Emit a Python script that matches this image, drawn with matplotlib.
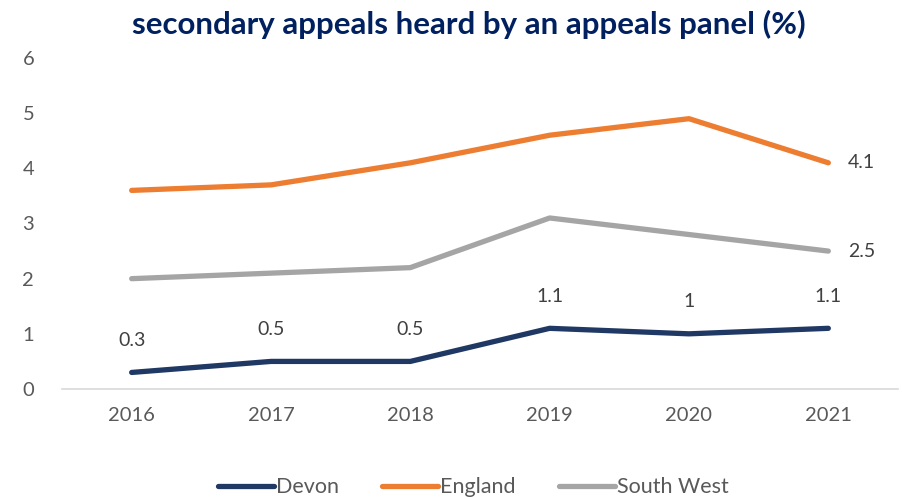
import matplotlib.pyplot as plt

years = ['2016', '2017', '2018', '2019', '2020', '2021']
devon = [0.3, 0.5, 0.5, 1.1, 1.0, 1.1]
england = [3.6, 3.7, 4.1, 4.6, 4.9, 4.1]
south_west = [2.0, 2.1, 2.2, 3.1, 2.8, 2.5]

plt.rcParams['font.family'] = ['Lato', 'DejaVu Sans']

fig = plt.figure(figsize=(9.02, 4.97), dpi=100)
ax = fig.add_axes([62 / 902, 1 - 389 / 497, 836 / 902, 331 / 497])

x = range(len(years))
ax.plot(x, devon, color='#1F3864', lw=3.8, solid_capstyle='round', label='Devon')
ax.plot(x, england, color='#ED7D31', lw=3.8, solid_capstyle='round', label='England')
ax.plot(x, south_west, color='#A5A5A5', lw=3.8, solid_capstyle='round', label='South West')

grey = '#404040'
for i, v in enumerate(devon):
    ax.annotate(f'{v:g}', (i, v), xytext=(0, 17), textcoords='offset points',
                ha='center', va='bottom', fontsize=14, color=grey)
ax.annotate(f'{england[-1]:g}', (5, england[-1]), xytext=(14, 0), textcoords='offset points',
            ha='left', va='center', fontsize=14, color=grey)
ax.annotate(f'{south_west[-1]:g}', (5, south_west[-1]), xytext=(14, 0), textcoords='offset points',
            ha='left', va='center', fontsize=14, color=grey)

ax.set_xlim(-0.5, 5.5)
ax.set_ylim(0, 6)
ax.set_xticks(list(x))
ax.set_xticklabels(years)
ax.set_yticks(range(7))
ax.tick_params(length=0, labelsize=14.5, colors='#595959')
ax.tick_params(axis='x', pad=13)
ax.tick_params(axis='y', pad=20)
for s in ['top', 'right', 'left']:
    ax.spines[s].set_visible(False)
ax.spines['bottom'].set_color('#D9D9D9')
ax.spines['bottom'].set_linewidth(1.2)

fig.text(0.52, 0.95, 'secondary appeals heard by an appeals panel (%)', ha='center', va='center',
         fontsize=22.5, fontweight='bold', color='#002060')

fig.legend(loc='center', bbox_to_anchor=(0.525, 0.02), ncol=3, frameon=False,
           fontsize=15.5, labelcolor='#595959', handlelength=2.6, handletextpad=0.1,
           columnspacing=2.0)

fig.savefig('out.png', dpi=100)
